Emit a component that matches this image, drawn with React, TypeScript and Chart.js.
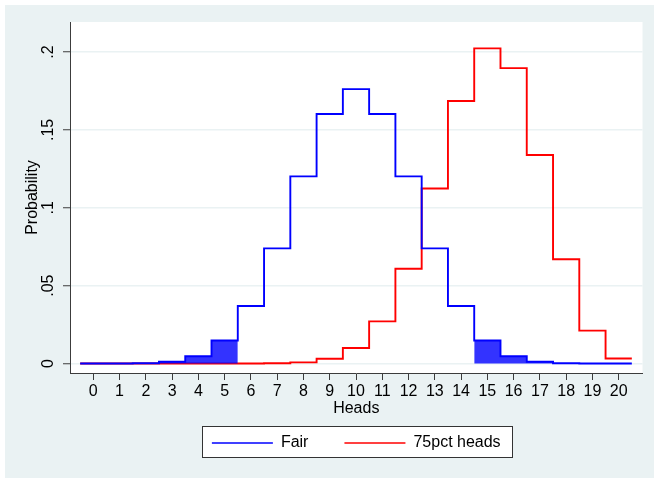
import React, { useEffect, useRef } from 'react';
import { Chart, registerables } from 'chart.js';

Chart.register(...registerables);

// ---- data ----
const heads = [0, 1, 2, 3, 4, 5, 6, 7, 8, 9, 10, 11, 12, 13, 14, 15, 16, 17, 18, 19, 20];
const fairProb = [
  0.000001, 0.000019, 0.000181, 0.001087, 0.004621, 0.014786, 0.036964, 0.073929, 0.120134, 0.160179,
  0.176197, 0.160179, 0.120134, 0.073929, 0.036964, 0.014786, 0.004621, 0.001087, 0.000181, 0.000019, 0.000001,
];
const biasedProb = [
  0, 0, 0, 0, 0, 0.000003, 0.000026, 0.000154, 0.000752, 0.003007,
  0.009922, 0.027061, 0.060887, 0.112406, 0.168609, 0.202331, 0.189685, 0.133896, 0.066948, 0.021141, 0.003171,
];
const lowerTail = [0, 1, 2, 3, 4, 5];
const upperTail = [15, 16, 17, 18, 19, 20];
const seriesNames = ['Fair', '75pct heads'];
const seriesColors = ['#0000ff', '#ff0000'];
const headsTicks = heads;
const probTicks = [0, 0.05, 0.1, 0.15, 0.2];
const probTickLabels = ['0', '.05', '.1', '.15', '.2'];

const FONT = '"Liberation Sans", Arial, Helvetica, sans-serif';
const FS = 16;
const AXIS_COLOR = '#3c3c3c';
const BG = '#eaf2f3';

const stepPoints = (ks: number[], probs: number[]) => {
  const pts = ks.map((k) => ({ x: k - 0.5, y: probs[k] }));
  const last = ks[ks.length - 1];
  pts.push({ x: last + 0.5, y: probs[last] });
  return pts;
};

const framePlugin = {
  id: 'stataFrame',
  beforeDraw(chart: any) {
    const { ctx, chartArea: a } = chart;
    ctx.save();
    ctx.fillStyle = '#ffffff';
    ctx.fillRect(0, 0, chart.width, chart.height);
    ctx.fillStyle = BG;
    ctx.fillRect(5, 5, chart.width - 5, chart.height - 5);
    ctx.fillStyle = '#ffffff';
    ctx.fillRect(a.left, a.top, a.right - a.left, a.bottom - a.top);
    const boxes = chart.legend && chart.legend.legendHitBoxes;
    if (boxes && boxes.length) {
      const l = Math.round(Math.min(...boxes.map((b: any) => b.left)) - 10);
      const r = Math.round(Math.max(...boxes.map((b: any) => b.left + b.width)) + 11);
      const cy = boxes[0].top + boxes[0].height / 2;
      const top = Math.round(cy - 17);
      ctx.fillStyle = '#ffffff';
      ctx.fillRect(l, top, r - l, 31);
      ctx.strokeStyle = '#333333';
      ctx.lineWidth = 1;
      ctx.strokeRect(l + 0.5, top + 0.5, r - l, 31);
    }
    ctx.restore();
  },
};

export default function App() {
  const ref = useRef<HTMLCanvasElement>(null);

  useEffect(() => {
    const canvas = ref.current;
    if (!canvas) return;
    const chart = new Chart(canvas, {
      type: 'line',
      data: {
        datasets: [
          {
            label: seriesNames[0],
            data: stepPoints(heads, fairProb),
            borderColor: seriesColors[0],
            backgroundColor: seriesColors[0],
            borderWidth: 1.9,
            stepped: 'before',
            pointRadius: 0,
            fill: false,
          },
          {
            label: 'lower',
            data: stepPoints(lowerTail, fairProb),
            borderWidth: 0,
            borderColor: 'rgba(0,0,255,0)',
            backgroundColor: 'rgba(0,0,255,0.8)',
            stepped: 'before',
            pointRadius: 0,
            fill: 'origin',
          },
          {
            label: 'upper',
            data: stepPoints(upperTail, fairProb),
            borderWidth: 0,
            borderColor: 'rgba(0,0,255,0)',
            backgroundColor: 'rgba(0,0,255,0.8)',
            stepped: 'before',
            pointRadius: 0,
            fill: 'origin',
          },
          {
            label: seriesNames[1],
            data: stepPoints(heads, biasedProb),
            borderColor: seriesColors[1],
            backgroundColor: seriesColors[1],
            borderWidth: 1.9,
            stepped: 'before',
            pointRadius: 0,
            fill: false,
          },
        ],
      } as any,
      options: {
        responsive: false,
        animation: false,
        parsing: false as any,
        normalized: true,
        layout: { padding: { top: 22, right: 11.5, bottom: 17, left: 0 } },
        plugins: {
          tooltip: { enabled: false },
          legend: {
            position: 'bottom',
            fullSize: false,
            labels: {
              boxWidth: 61,
              boxHeight: 1.6,
              padding: 36,
              color: '#000',
              font: { family: FONT, size: FS },
              generateLabels: () =>
                seriesNames.map((t, i) => ({
                  text: t,
                  fillStyle: seriesColors[i],
                  strokeStyle: seriesColors[i],
                  lineWidth: 0,
                  hidden: false,
                  datasetIndex: i === 0 ? 0 : 3,
                })),
            },
          },
        },
        scales: {
          x: {
            type: 'linear',
            min: -0.887,
            max: 20.906,
            afterBuildTicks: (s: any) => {
              s.ticks = headsTicks.map((v) => ({ value: v }));
            },
            afterFit: (s: any) => {
              s.height = 26;
            },
            grid: {
              drawOnChartArea: false,
              drawTicks: true,
              tickLength: 7,
              tickColor: AXIS_COLOR,
              tickWidth: 1,
            },
            border: { display: true, color: AXIS_COLOR, width: 1 },
            ticks: {
              autoSkip: false,
              maxRotation: 0,
              minRotation: 0,
              padding: 1.5,
              color: '#000',
              font: { family: FONT, size: FS },
              callback: (v: any) => String(v),
            },
            title: {
              display: true,
              text: 'Heads',
              color: '#000',
              font: { family: FONT, size: FS },
              padding: { top: 0, bottom: -19.6 },
            },
          },
          y: {
            type: 'linear',
            min: -0.0061,
            max: 0.2193,
            afterBuildTicks: (s: any) => {
              s.ticks = probTicks.map((v) => ({ value: v }));
            },
            afterFit: (s: any) => {
              s.width = 70;
            },
            grid: {
              color: BG,
              lineWidth: 1.5,
              drawTicks: true,
              tickLength: 7,
              tickColor: AXIS_COLOR,
              tickWidth: 1,
            },
            border: { display: true, color: AXIS_COLOR, width: 1 },
            ticks: {
              autoSkip: false,
              minRotation: 90,
              maxRotation: 90,
              crossAlign: 'center',
              padding: 2.9,
              color: '#000',
              font: { family: FONT, size: FS },
              callback: (_v: any, i: number) => probTickLabels[i],
            },
            title: {
              display: true,
              text: 'Probability',
              color: '#000',
              font: { family: FONT, size: FS },
              padding: { top: 23.4, bottom: 0 },
            },
          },
        },
      } as any,
      plugins: [framePlugin],
    });
    return () => chart.destroy();
  }, []);

  return (
    <canvas
      ref={ref}
      width={654}
      height={478}
      style={{ position: 'fixed', left: 0, top: 0, display: 'block' }}
    />
  );
}
